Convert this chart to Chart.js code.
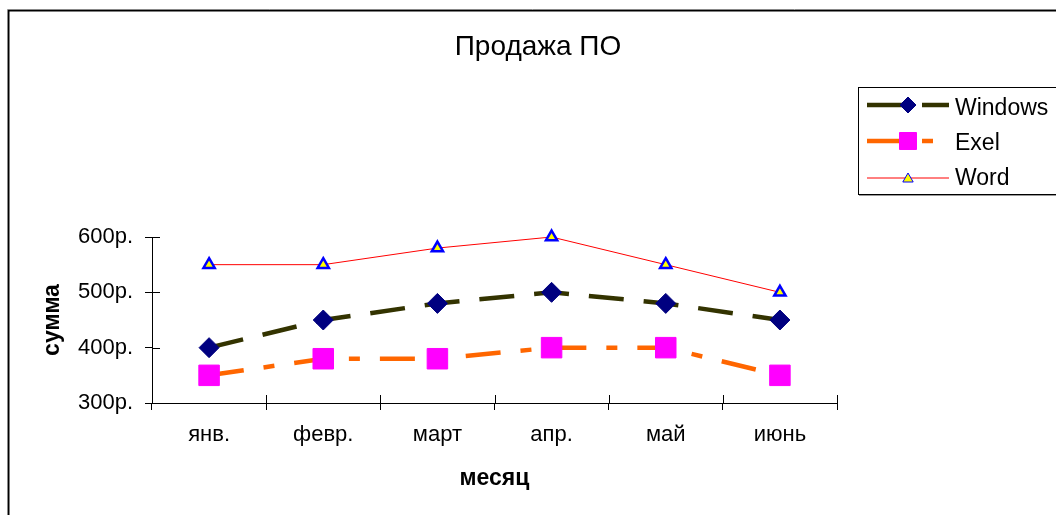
<!DOCTYPE html>
<html>
<head>
<meta charset="utf-8">
<script src="https://cdn.jsdelivr.net/npm/chart.js@4"></script>
<style>
  html, body { margin: 0; padding: 0; background: #fff; overflow: hidden; }
  #wrap { width: 1056px; height: 515px; position: relative; }
</style>
</head>
<body>
<div id="wrap"><canvas id="chart" width="1056" height="515"></canvas></div>
<script>
// chart data
const months = ['янв.', 'февр.', 'март', 'апр.', 'май', 'июнь'];
const windowsSales = [400, 450, 480, 500, 480, 450];
const exelSales = [350, 380, 380, 400, 400, 350];
const wordSales = [550, 550, 580, 600, 550, 500];
const chartTitle = 'Продажа ПО';
const xTitle = 'месяц';
const yTitle = 'сумма';
const yMin = 300;
const yMax = 600;

Chart.defaults.font.family = '"Liberation Sans", Arial, sans-serif';
Chart.defaults.color = '#000';

// frame, title, legend and inner halves of the axis ticks
const decorations = {
    id: 'decorations',
    afterDraw(chart) {
        const ctx = chart.ctx;
        const xs = chart.scales.x;
        const ys = chart.scales.y;
        ctx.save();

        // outer frame
        ctx.strokeStyle = '#888';
        ctx.lineWidth = 1;
        ctx.beginPath();
        ctx.moveTo(7.5, 520); ctx.lineTo(7.5, 9.5); ctx.lineTo(1060, 9.5);
        ctx.stroke();
        ctx.strokeStyle = '#000';
        ctx.lineWidth = 1.5;
        ctx.beginPath();
        ctx.moveTo(8.75, 520); ctx.lineTo(8.75, 10.75); ctx.lineTo(1060, 10.75);
        ctx.stroke();

        // title
        ctx.fillStyle = '#000';
        ctx.font = '28px "Liberation Sans", Arial, sans-serif';
        ctx.textAlign = 'center';
        ctx.textBaseline = 'alphabetic';
        ctx.fillText(chartTitle, 538, 55);

        // ticks crossing into the plot
        ctx.strokeStyle = '#000';
        ctx.lineWidth = 1;
        ctx.beginPath();
        for (let v = yMin; v <= yMax; v += 100) {
            const py = Math.round(ys.getPixelForValue(v)) + 0.5;
            ctx.moveTo(xs.left, py); ctx.lineTo(xs.left + 8, py);
        }
        const step = (xs.right - xs.left) / months.length;
        for (let i = 0; i <= months.length; i++) {
            const px = Math.round(xs.left + i * step) + 0.5;
            ctx.moveTo(px, ys.bottom); ctx.lineTo(px, ys.bottom - 8);
        }
        ctx.stroke();

        // legend box
        ctx.fillStyle = '#999';
        ctx.fillRect(859, 194, 300, 2);
        ctx.fillStyle = '#fff';
        ctx.fillRect(858.5, 87.5, 300, 107);
        ctx.strokeStyle = '#000';
        ctx.strokeRect(858.5, 87.5, 300, 107);

        const rows = [105, 141, 178];
        const legendRadius = [8, 12, 6];
        chart.data.datasets.forEach((ds, i) => {
            const y = rows[i];
            ctx.save();
            ctx.strokeStyle = ds.borderColor;
            ctx.lineWidth = ds.borderWidth;
            ctx.setLineDash(ds.borderDash || []);
            ctx.beginPath();
            ctx.moveTo(867, y); ctx.lineTo(949, y);
            ctx.stroke();
            ctx.restore();
            ctx.save();
            ctx.fillStyle = ds.pointBackgroundColor;
            ctx.strokeStyle = ds.pointBorderColor;
            Chart.helpers.drawPoint(ctx, {
                pointStyle: ds.pointStyle,
                radius: legendRadius[i],
                rotation: 0,
                borderWidth: ds.pointBorderWidth
            }, 908, y + (ds.pointStyle === 'triangle' ? 1 : 0));
            ctx.restore();
            ctx.fillStyle = '#000';
            ctx.font = '23px "Liberation Sans", Arial, sans-serif';
            ctx.textAlign = 'left';
            ctx.textBaseline = 'alphabetic';
            ctx.fillText(ds.label, 955, [115, 150, 185][i]);
        });
        ctx.restore();
    }
};

new Chart(document.getElementById('chart'), {
    type: 'line',
    data: {
        labels: months,
        datasets: [
            {
                label: 'Windows',
                data: windowsSales,
                borderColor: '#333300',
                borderWidth: 4.5,
                borderDash: [35, 20],
                pointStyle: 'rectRot',
                pointRadius: 10,
                pointBackgroundColor: '#000080',
                pointBorderColor: '#000080',
                pointBorderWidth: 1,
                clip: false
            },
            {
                label: 'Exel',
                data: exelSales,
                borderColor: '#FF6600',
                borderWidth: 4.5,
                borderDash: [35, 20, 11, 20],
                pointStyle: 'rect',
                pointRadius: 14.5,
                pointBackgroundColor: '#FF00FF',
                pointBorderColor: '#FF00FF',
                pointBorderWidth: 1,
                clip: false
            },
            {
                label: 'Word',
                data: wordSales,
                borderColor: '#FF0000',
                borderWidth: 1,
                pointStyle: 'triangle',
                pointRadius: 6.5,
                pointBackgroundColor: '#FFFF00',
                pointBorderColor: '#0000FF',
                pointBorderWidth: 2.5,
                clip: false
            }
        ]
    },
    options: {
        responsive: false,
        animation: false,
        devicePixelRatio: 1,
        layout: { padding: { top: 237, right: 219, left: 0, bottom: 0 } },
        plugins: {
            legend: { display: false },
            title: { display: false },
            tooltip: { enabled: false }
        },
        elements: { line: { tension: 0, fill: false } },
        scales: {
            x: {
                type: 'category',
                offset: true,
                afterFit(s) { s.height = 112; },
                grid: { display: true, offset: true, drawOnChartArea: false, drawTicks: true, tickLength: 7, color: '#000' },
                border: { display: true, color: '#000', width: 1 },
                ticks: { font: { size: 22 }, padding: 12, maxRotation: 0, autoSkip: false },
                title: { display: true, text: xTitle, font: { size: 23, weight: 'bold' }, padding: { top: 0, bottom: 23 } }
            },
            y: {
                min: yMin,
                max: yMax,
                afterFit(s) { s.width = 152; },
                grid: { display: true, drawOnChartArea: false, drawTicks: true, tickLength: 7, color: '#000' },
                border: { display: true, color: '#000', width: 1 },
                ticks: {
                    stepSize: 50,
                    font: { size: 22 },
                    padding: 12,
                    callback: v => (v % 100 === 0 ? v + 'р.' : '')
                },
                title: { display: true, text: yTitle, font: { size: 23, weight: 'bold' }, padding: { top: 39, bottom: 0 } }
            }
        }
    },
    plugins: [decorations]
});
</script>
</body>
</html>
